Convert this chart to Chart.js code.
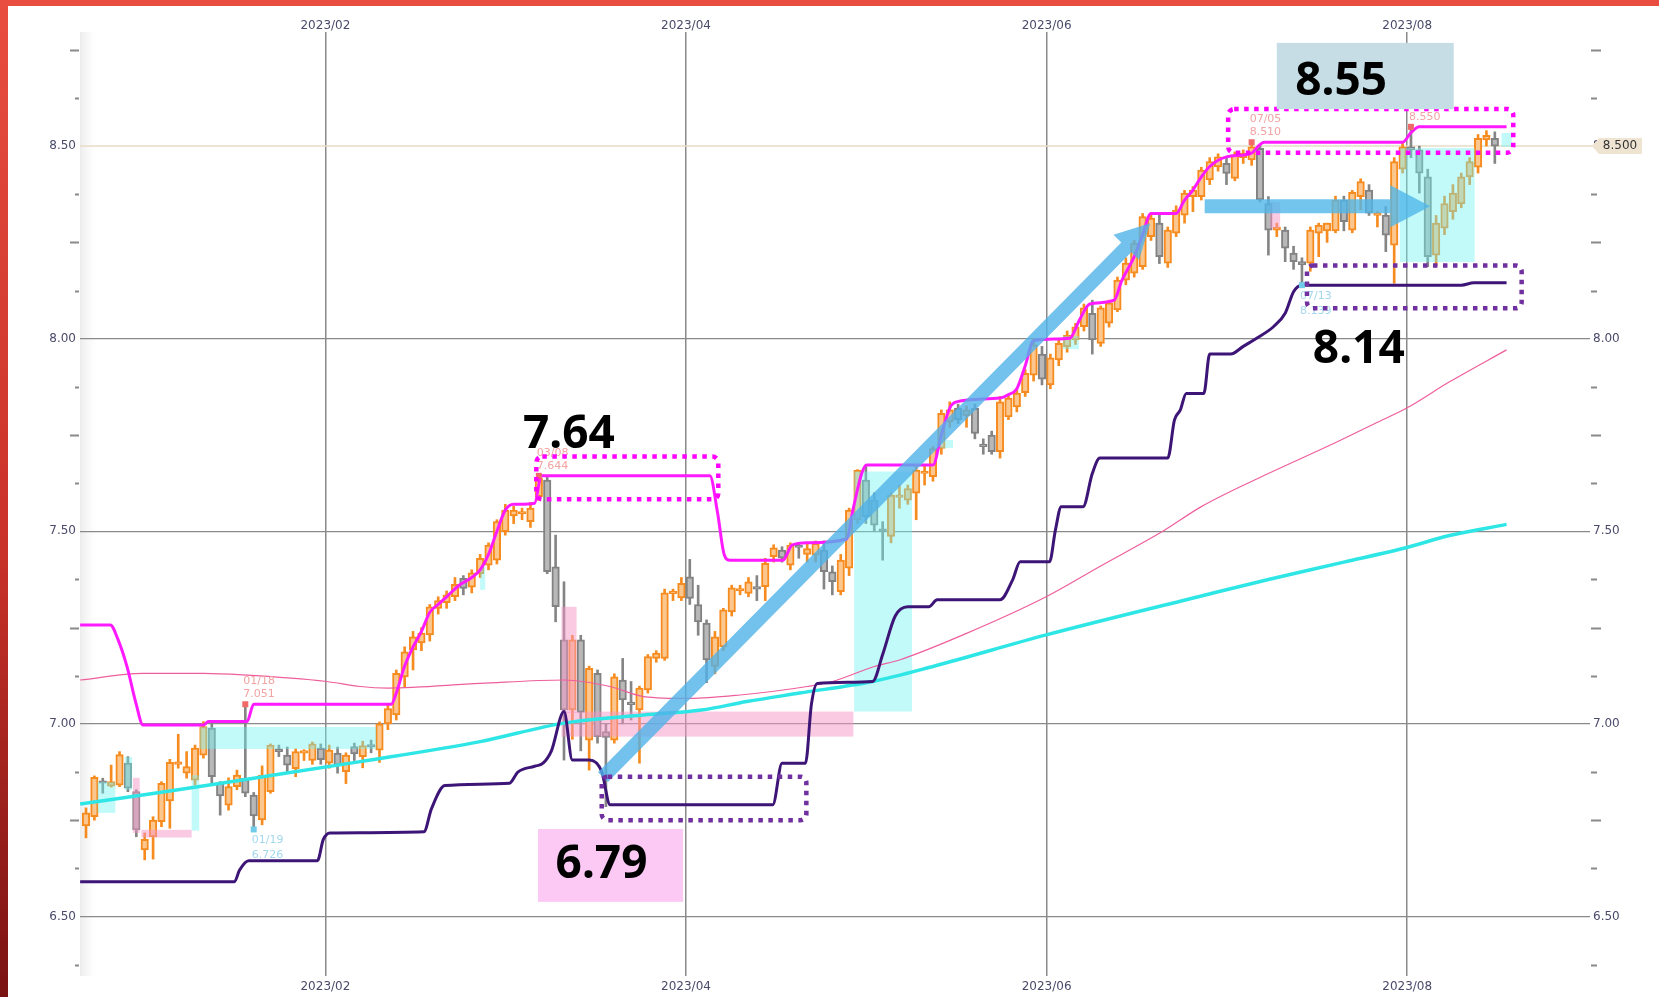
<!DOCTYPE html>
<html>
<head>
<meta charset="utf-8">
<script src="https://cdn.jsdelivr.net/npm/chart.js@4.4.0/dist/chart.umd.min.js"></script>
<style>
  html, body { margin: 0; padding: 0; background: #fff; }
  #wrap { width: 1659px; height: 997px; }
</style>
</head>
<body>
<div id="wrap"><canvas id="chart" width="1659" height="997"></canvas></div>
<script>
// daily candles, one per weekday
const opens = [6.735,6.759,6.851,6.838,6.841,6.898,6.824,6.673,6.707,6.746,6.800,6.895,6.872,6.854,6.919,6.989,6.846,6.789,6.837,6.859,
  6.815,6.751,6.824,6.935,6.919,6.884,6.924,6.905,6.937,6.898,6.924,6.876,6.941,6.915,6.944,6.932,7.000,7.023,7.122,7.192,
  7.210,7.231,7.300,7.315,7.330,7.378,7.355,7.390,7.412,7.425,7.499,7.540,7.545,7.525,7.590,7.633,7.408,7.218,7.036,7.218,
  6.958,7.131,6.980,6.958,7.114,7.055,7.036,7.088,7.170,7.170,7.338,7.327,7.382,7.310,7.262,7.149,7.200,7.291,7.345,7.339,
  7.355,7.356,7.434,7.451,7.412,7.460,7.440,7.438,7.451,7.395,7.343,7.404,7.530,7.633,7.581,7.505,7.487,7.588,7.581,7.599,
  7.650,7.642,7.715,7.784,7.820,7.800,7.819,7.722,7.750,7.707,7.797,7.823,7.860,7.905,7.960,7.880,7.945,7.979,7.997,8.031,
  8.066,7.988,8.040,8.075,8.152,8.170,8.187,8.265,8.300,8.196,8.274,8.321,8.369,8.369,8.412,8.446,8.455,8.416,8.470,8.464,
  8.494,8.351,8.282,8.282,8.222,8.200,8.196,8.274,8.280,8.280,8.360,8.282,8.369,8.386,8.320,8.321,8.243,8.440,8.498,8.490,
  8.420,8.217,8.287,8.330,8.350,8.420,8.445,8.516,8.520];
const highs = [6.782,6.865,6.859,6.893,6.928,6.915,6.829,6.717,6.759,6.850,6.908,6.973,6.928,6.945,7.006,7.001,6.850,6.860,6.880,7.051,
  6.822,6.891,6.948,6.945,6.940,6.935,6.933,6.953,6.948,6.945,6.940,6.925,6.950,6.955,6.958,7.005,7.050,7.140,7.200,7.240,
  7.250,7.310,7.330,7.345,7.380,7.385,7.400,7.440,7.470,7.530,7.570,7.565,7.560,7.575,7.644,7.640,7.490,7.369,7.230,7.230,
  7.150,7.140,7.000,7.130,7.170,7.110,7.098,7.180,7.190,7.350,7.350,7.380,7.427,7.360,7.270,7.240,7.300,7.360,7.360,7.380,
  7.385,7.430,7.465,7.460,7.470,7.468,7.470,7.475,7.475,7.410,7.440,7.560,7.660,7.672,7.600,7.525,7.600,7.620,7.620,7.670,
  7.672,7.720,7.815,7.836,7.830,7.825,7.830,7.740,7.760,7.850,7.855,7.870,7.920,8.000,7.980,7.960,8.000,8.020,8.040,8.090,
  8.100,8.085,8.100,8.160,8.210,8.255,8.325,8.325,8.325,8.290,8.345,8.385,8.395,8.445,8.470,8.480,8.470,8.485,8.490,8.510,
  8.500,8.369,8.300,8.290,8.240,8.210,8.290,8.300,8.300,8.370,8.370,8.385,8.415,8.400,8.330,8.343,8.470,8.510,8.550,8.500,
  8.440,8.320,8.370,8.400,8.430,8.470,8.530,8.540,8.537];
const lows = [6.704,6.750,6.820,6.836,6.837,6.824,6.707,6.647,6.649,6.733,6.729,6.885,6.859,6.841,6.911,6.841,6.763,6.776,6.829,6.811,
  6.726,6.738,6.820,6.915,6.875,6.863,6.905,6.895,6.895,6.885,6.872,6.845,6.905,6.886,6.925,6.900,6.985,7.010,7.095,7.140,
  7.190,7.215,7.285,7.300,7.320,7.335,7.340,7.380,7.400,7.415,7.490,7.520,7.530,7.510,7.580,7.390,7.265,6.906,6.960,6.930,
  6.880,6.950,6.785,6.950,7.000,7.010,6.898,7.080,7.160,7.165,7.320,7.320,7.310,7.230,7.107,7.130,7.190,7.280,7.335,7.330,
  7.320,7.320,7.420,7.420,7.400,7.430,7.420,7.420,7.350,7.335,7.335,7.385,7.520,7.520,7.500,7.425,7.470,7.560,7.570,7.530,
  7.620,7.630,7.700,7.770,7.780,7.770,7.740,7.700,7.700,7.690,7.790,7.810,7.850,7.890,7.880,7.870,7.930,7.965,7.985,8.020,
  7.960,7.980,8.030,8.070,8.140,8.160,8.180,8.255,8.195,8.185,8.265,8.300,8.330,8.360,8.400,8.435,8.400,8.410,8.455,8.450,
  8.355,8.217,8.265,8.200,8.180,8.139,8.175,8.213,8.250,8.275,8.280,8.275,8.335,8.320,8.290,8.226,8.144,8.430,8.470,8.378,
  8.187,8.190,8.270,8.310,8.340,8.400,8.430,8.500,8.455];
const closes = [6.769,6.861,6.846,6.850,6.920,6.833,6.725,6.700,6.750,6.846,6.900,6.900,6.889,6.937,6.993,6.863,6.813,6.837,6.867,6.820,
  6.761,6.867,6.945,6.928,6.893,6.928,6.926,6.948,6.907,6.932,6.893,6.919,6.922,6.944,6.940,7.000,7.040,7.131,7.187,7.226,
  7.236,7.304,7.320,7.335,7.362,7.352,7.392,7.430,7.464,7.525,7.555,7.555,7.550,7.560,7.638,7.395,7.304,7.036,7.218,7.030,
  7.144,6.967,6.965,7.122,7.062,7.050,7.093,7.175,7.184,7.340,7.342,7.365,7.326,7.265,7.166,7.226,7.296,7.353,7.350,7.369,
  7.350,7.417,7.457,7.430,7.464,7.458,7.455,7.469,7.395,7.369,7.425,7.555,7.659,7.538,7.516,7.500,7.594,7.592,7.611,7.659,
  7.655,7.715,7.806,7.815,7.790,7.815,7.754,7.720,7.707,7.836,7.846,7.859,7.910,7.985,7.895,7.950,7.988,8.009,8.031,8.080,
  7.997,8.080,8.093,8.152,8.196,8.248,8.317,8.313,8.213,8.282,8.334,8.378,8.386,8.438,8.460,8.472,8.429,8.477,8.482,8.498,
  8.360,8.282,8.290,8.235,8.200,8.192,8.282,8.295,8.300,8.360,8.304,8.380,8.408,8.326,8.322,8.269,8.460,8.498,8.490,8.430,
  8.213,8.300,8.351,8.378,8.420,8.460,8.520,8.528,8.500];

// channel lines and moving averages: [candle index, value]
const upperBand = [[-0.7,7.257],[2.9,7.257],[3.8,7.22],[4.9,7.148],[6.0,7.05],[6.8,6.997],[14,6.997],[14.6,7.006],[19.2,7.006],[20,7.051],
  [36.4,7.051],[37,7.08],[38,7.15],[39,7.2],[40,7.24],[41,7.29],[42,7.31],[43,7.33],[44.5,7.36],[46,7.38],[47,7.4],[48,7.44],[49,7.5],
  [50,7.555],[51,7.57],[53.5,7.573],[54.3,7.644],[74.4,7.644],[75.3,7.55],[76.1,7.44],[76.8,7.425],[83.1,7.425],[84.2,7.464],[86,7.47],
  [90.7,7.48],[91.5,7.56],[92.5,7.65],[93.1,7.672],[101,7.672],[102,7.75],[103,7.82],[103.8,7.836],[109,7.846],[110,7.855],[111,7.87],
  [112,7.93],[113,7.995],[117.3,8.001],[118.5,8.05],[119.7,8.09],[122.6,8.1],[123.5,8.15],[125,8.213],[126,8.27],[127,8.325],[130,8.325],
  [131,8.36],[132,8.386],[133,8.42],[134,8.447],[136,8.472],[139,8.482],[139.8,8.5],[140.5,8.51],[157,8.51],[158,8.535],[159,8.55],[169.4,8.55]];
const lowerBand = [[-0.7,6.59],[17.7,6.59],[18.3,6.62],[19.4,6.645],[27.6,6.645],[28.3,6.7],[29.1,6.717],[40.3,6.72],[41.2,6.78],[42.8,6.84],
  [50.5,6.846],[51.5,6.875],[53.5,6.89],[54.5,6.898],[55.5,6.93],[57,7.032],[58,6.906],[60,6.906],[61.5,6.876],[62.5,6.79],[81.9,6.79],
  [83,6.898],[85.8,6.898],[86.5,7.05],[87.2,7.105],[93.8,7.11],[95,7.18],[96.5,7.28],[98,7.304],[100.5,7.304],[101.5,7.322],[109,7.322],
  [110.5,7.374],[111.4,7.421],[114.9,7.421],[115.6,7.503],[116.3,7.564],[118.9,7.564],[120,7.65],[120.9,7.69],[129,7.69],[129.8,7.789],
  [130.5,7.815],[131.2,7.858],[133.3,7.858],[134,7.96],[136.5,7.96],[138,7.98],[139.5,8.0],[141.6,8.031],[143,8.066],[144,8.122],
  [145,8.139],[164,8.139],[165.5,8.145],[169.4,8.145]];
const maSlow = [[-0.7,7.114],[6.8,7.131],[14,7.131],[18.7,7.127],[28.7,7.11],[32.7,7.097],[36,7.093],[47,7.105],[57,7.114],[62.5,7.097],
  [66.5,7.071],[72,7.066],[78,7.075],[86,7.097],[89,7.11],[94,7.149],[97,7.166],[105,7.235],[114.5,7.33],[121,7.41],[128.4,7.5],
  [133,7.564],[141,7.65],[148,7.72],[153.7,7.78],[157.5,7.82],[162.6,7.888],[169.4,7.971]];
const maLong = [[-0.7,6.792],[10,6.826],[20,6.859],[32.7,6.902],[47,6.954],[57,7.002],[66.5,7.023],[73.4,7.036],[78.8,7.058],[85.1,7.08],
  [93.8,7.11],[101,7.149],[114.5,7.231],[133,7.332],[141,7.375],[150,7.42],[157.5,7.458],[162.6,7.489],[169.4,7.518]];

// axis ticks
const monthStart = [29, 72, 115, 158];
const monthLabels = ['2023/02', '2023/04', '2023/06', '2023/08'];
const yMajor = [6.5, 7.0, 7.5, 8.0, 8.5];
const yMinor = [6.375, 6.625, 6.75, 6.875, 7.125, 7.25, 7.375, 7.625, 7.75, 7.875, 8.125, 8.25, 8.375, 8.625, 8.75];

// labelled highs / lows
const markIdx = [19, 20, 54, 139, 158, 145];
const markKind = ['high', 'low', 'high', 'high', 'high', 'low'];
const markDate = ['01/18', '01/19', '03/08', '07/05', '08/01', '07/13'];

// hand-drawn annotations (index / price units)
const cyanZones = [[1.4,3.5,6.769,6.849],[4.6,5.5,6.829,6.914],[12.6,13.5,6.723,6.867],[13.6,34.6,6.935,6.992],[47,47.6,7.348,7.408],
  [91.6,98.5,7.032,7.655],[101.8,103.4,7.716,7.737],[116.5,118.4,7.973,8.007],[156.7,165.6,8.199,8.495],[168.8,170,8.498,8.534]];
const pinkZones = [[5.6,6.4,6.717,6.86],[6.6,12.6,6.705,6.725],[56.7,58.5,7.028,7.304],[56.7,91.5,6.967,7.032],[141.2,142.4,8.287,8.355]];
const dotBoxes = [
  {x0: 53.7, x1: 75.4, y0: 7.583, y1: 7.694, color: '#ff00ff'},
  {x0: 136.2, x1: 170.2, y0: 8.483, y1: 8.596, color: '#ff00ff'},
  {x0: 61.5, x1: 85.9, y0: 6.75, y1: 6.863, color: '#7030a0'},
  {x0: 145.6, x1: 171.2, y0: 8.079, y1: 8.19, color: '#7030a0'}
];
const callouts = [
  {text: '7.64', x: 52.1, y: 7.716},
  {text: '6.79', x: 56.0, y: 6.600, box: [53.9, 71.2, 6.538, 6.727], fill: '#fcc8f4'},
  {text: '8.55', x: 144.2, y: 8.633, box: [142.0, 163.1, 8.596, 8.768], fill: '#c6dde5'},
  {text: '8.14', x: 146.3, y: 7.937}
];

const idx = opens.map((_, i) => i);
const up = i => closes[i] >= opens[i];
const pts = arr => arr.map(p => ({x: p[0], y: p[1]}));
const lastClose = closes[closes.length - 1];

function arrow(c, x0, y0, x1, y1, w, hw, hl, color) {
  const ang = Math.atan2(y1 - y0, x1 - x0), len = Math.hypot(x1 - x0, y1 - y0);
  c.save();
  c.translate(x0, y0); c.rotate(ang);
  c.beginPath();
  c.moveTo(0, -w / 2); c.lineTo(len - hl, -w / 2); c.lineTo(len - hl, -hw); c.lineTo(len, 0);
  c.lineTo(len - hl, hw); c.lineTo(len - hl, w / 2); c.lineTo(0, w / 2); c.closePath();
  c.fillStyle = color; c.fill();
  c.restore();
}

const overlay = {
  id: 'overlay',
  beforeDraw(chart) {
    const c = chart.ctx, a = chart.chartArea;
    c.save();
    c.fillStyle = '#fff'; c.fillRect(0, 0, chart.width, chart.height);
    const g = c.createLinearGradient(0, 0, 0, chart.height);
    g.addColorStop(0, '#e84d3f'); g.addColorStop(0.55, '#c93229'); g.addColorStop(1, '#7a1313');
    c.fillStyle = g; c.fillRect(0, 0, 8, chart.height);
    c.fillStyle = '#e84d3f'; c.fillRect(0, 0, chart.width, 6);
    const b = c.createLinearGradient(a.left, 0, a.left + 20, 0);
    b.addColorStop(0, '#ececec'); b.addColorStop(1, 'rgba(255,255,255,0)');
    c.fillStyle = b; c.fillRect(a.left, a.top, 20, a.bottom - a.top);
    c.restore();
  },
  beforeDatasetsDraw(chart) {
    const c = chart.ctx, a = chart.chartArea, y = chart.scales.y;
    const py = y.getPixelForValue(lastClose);
    c.save();
    c.strokeStyle = '#e6dcc4'; c.lineWidth = 1.5;
    c.beginPath(); c.moveTo(a.left, py); c.lineTo(a.right + 4, py); c.stroke();
    c.restore();
  },
  afterDatasetDraw(chart, args) {
    if (args.index !== 1) return;
    const c = chart.ctx, x = chart.scales.x, y = chart.scales.y;
    c.save();
    const zone = (z, col) => {
      const x0 = x.getPixelForValue(z[0]), x1 = x.getPixelForValue(z[1]);
      const y0 = y.getPixelForValue(z[3]), y1 = y.getPixelForValue(z[2]);
      c.fillStyle = col; c.fillRect(x0, y0, x1 - x0, y1 - y0);
    };
    cyanZones.forEach(z => zone(z, 'rgba(110,240,240,0.42)'));
    pinkZones.forEach(z => zone(z, 'rgba(245,150,200,0.5)'));
    c.restore();
  },
  afterDatasetsDraw(chart) {
    const c = chart.ctx, x = chart.scales.x, y = chart.scales.y;
    const X = v => x.getPixelForValue(v), Y = v => y.getPixelForValue(v);
    c.save();
    // arrows
    arrow(c, X(61.65), Y(6.862), X(126.9), Y(8.30), 14, 18, 34, 'rgba(80,178,232,0.8)');
    arrow(c, X(133.4), Y(8.344), X(160.3), Y(8.344), 14, 21, 40, 'rgba(80,182,234,0.8)');
    // high / low markers
    c.font = '11px "DejaVu Sans"'; c.textBaseline = 'middle'; c.textAlign = 'left';
    markIdx.forEach((i, k) => {
      const hi = markKind[k] === 'high';
      const v = hi ? highs[i] : lows[i];
      const mx = X(i), my = Y(v);
      c.fillStyle = hi ? '#f06a6a' : '#70cce8';
      c.fillRect(mx - 3, my - 3, 6, 6);
      c.fillStyle = hi ? '#f2a3a3' : '#a3d8ee';
      c.fillText(markDate[k], mx - 2, hi ? my - 23 : my + 11);
      c.fillText(v.toFixed(3), mx - 2, hi ? my - 10 : my + 26);
    });
    // dotted frames
    dotBoxes.forEach(d => {
      c.save();
      c.strokeStyle = d.color; c.lineWidth = 4.5; c.setLineDash([4.5, 5.5]);
      c.beginPath();
      c.roundRect(X(d.x0), Y(d.y1), X(d.x1) - X(d.x0), Y(d.y0) - Y(d.y1), 6);
      c.stroke();
      c.restore();
    });
    // callouts
    callouts.forEach(t => {
      if (t.box) {
        c.fillStyle = t.fill;
        c.fillRect(X(t.box[0]), Y(t.box[3]), X(t.box[1]) - X(t.box[0]), Y(t.box[2]) - Y(t.box[3]));
      }
      c.fillStyle = '#000';
      c.font = 'bold 46px "Noto Sans"'; c.textBaseline = 'alphabetic'; c.textAlign = 'left';
      c.fillText(t.text, X(t.x), Y(t.y));
    });
    c.restore();
  },
  afterDraw(chart) {
    const c = chart.ctx, a = chart.chartArea, y = chart.scales.y;
    c.save();
    c.strokeStyle = '#8a8a8a'; c.lineWidth = 2;
    yMinor.forEach(v => {
      const p = Math.round(y.getPixelForValue(v)) + 0.5;
      const long = Number.isInteger(v * 4);
      c.beginPath();
      c.moveTo(long ? a.left - 10 : a.left - 5, p); c.lineTo(a.left - 1, p);
      c.moveTo(a.right + 1, p); c.lineTo(long ? a.right + 11 : a.right + 7, p);
      c.stroke();
    });
    // last price tag
    const py = y.getPixelForValue(lastClose), tx = a.right + 2;
    c.fillStyle = '#efe4d2';
    c.beginPath();
    c.moveTo(tx, py); c.lineTo(tx + 7, py - 8); c.lineTo(tx + 50, py - 8); c.lineTo(tx + 50, py + 8);
    c.lineTo(tx + 7, py + 8); c.closePath(); c.fill();
    c.fillStyle = '#333'; c.font = '12px "DejaVu Sans"'; c.textAlign = 'center'; c.textBaseline = 'middle';
    c.fillText(lastClose.toFixed(3), tx + 28, py);
    c.restore();
  }
};

const tickFont = {family: '"DejaVu Sans", Verdana, sans-serif', size: 12};
const tickColor = '#4a4a6a';
const yTicks = s => { s.ticks = yMajor.concat(yMinor).sort((p, q) => p - q).map(v => ({value: v})); };
const xTicks = s => { s.ticks = monthStart.map(v => ({value: v - 0.45})); };
const yLabel = v => yMajor.includes(v) ? v.toFixed(2) : '';
const xLabel = (v, k) => monthLabels[k];

new Chart(document.getElementById('chart'), {
  type: 'bar',
  data: {
    datasets: [
      {
        type: 'bar', label: 'wick', order: 4, grouped: false,
        data: idx.map(i => ({x: i, y: [lows[i], highs[i]]})),
        barThickness: 2,
        backgroundColor: ctx => up(ctx.dataIndex) ? '#f68b1f' : '#858585',
        xAxisID: 'x', yAxisID: 'y'
      },
      {
        type: 'bar', label: 'body', order: 3, grouped: false,
        data: idx.map(i => ({x: i, y: [opens[i], closes[i]]})),
        barThickness: 7.5, minBarLength: 2.5, borderWidth: 2, borderSkipped: false,
        backgroundColor: ctx => up(ctx.dataIndex) ? '#fcc78e' : '#b8b8b8',
        borderColor: ctx => up(ctx.dataIndex) ? '#f68b1f' : '#828282',
        xAxisID: 'x', yAxisID: 'y'
      },
      {
        type: 'line', label: 'MA slow', order: 2, data: pts(maSlow),
        borderColor: '#ef5e9c', borderWidth: 1.2, pointRadius: 0, cubicInterpolationMode: 'monotone',
        xAxisID: 'x', yAxisID: 'y'
      },
      {
        type: 'line', label: 'MA long', order: 2, data: pts(maLong),
        borderColor: '#2fe6e6', borderWidth: 3.5, pointRadius: 0, cubicInterpolationMode: 'monotone',
        xAxisID: 'x', yAxisID: 'y'
      },
      {
        type: 'line', label: 'lower', order: 1, data: pts(lowerBand),
        borderColor: '#3d1577', borderWidth: 3, pointRadius: 0, cubicInterpolationMode: 'monotone',
        xAxisID: 'x', yAxisID: 'y'
      },
      {
        type: 'line', label: 'upper', order: 1, data: pts(upperBand),
        borderColor: '#ff1aff', borderWidth: 3, pointRadius: 0, cubicInterpolationMode: 'monotone',
        xAxisID: 'x', yAxisID: 'y'
      }
    ]
  },
  options: {
    responsive: false,
    animation: false,
    devicePixelRatio: 1,
    layout: {padding: 0},
    plugins: {legend: {display: false}, tooltip: {enabled: false}},
    scales: {
      x: {
        type: 'linear', position: 'bottom', min: -0.715, max: 179.35, offset: false,
        afterBuildTicks: xTicks, afterFit: s => { s.height = 21; },
        grid: {color: '#8a8a8a', lineWidth: 1.5, drawTicks: false, offset: false},
        border: {display: false},
        ticks: {callback: xLabel, font: tickFont, color: tickColor, padding: 4, autoSkip: false, maxRotation: 0}
      },
      x2: {
        type: 'linear', position: 'top', min: -0.715, max: 179.35, offset: false,
        afterBuildTicks: xTicks, afterFit: s => { s.height = 32; },
        grid: {display: false, drawTicks: false},
        border: {display: false},
        ticks: {callback: xLabel, font: tickFont, color: tickColor, padding: -1, autoSkip: false, maxRotation: 0}
      },
      y: {
        type: 'linear', position: 'left', min: 6.3455, max: 8.7962,
        afterBuildTicks: yTicks, afterFit: s => { s.width = 80; },
        grid: {
          color: ctx => (ctx.tick && yMajor.includes(ctx.tick.value) && ctx.tick.value !== lastClose) ? '#8a8a8a' : 'rgba(0,0,0,0)',
          lineWidth: 1.2, drawTicks: false
        },
        border: {display: false},
        ticks: {callback: yLabel, font: tickFont, color: tickColor, padding: 4, autoSkip: false}
      },
      y2: {
        type: 'linear', position: 'right', min: 6.3455, max: 8.7962,
        afterBuildTicks: yTicks, afterFit: s => { s.width = 69; },
        grid: {display: false, drawTicks: false},
        border: {display: false},
        ticks: {callback: yLabel, font: tickFont, color: tickColor, padding: 3, autoSkip: false}
      }
    }
  },
  plugins: [overlay]
});
</script>
</body>
</html>
